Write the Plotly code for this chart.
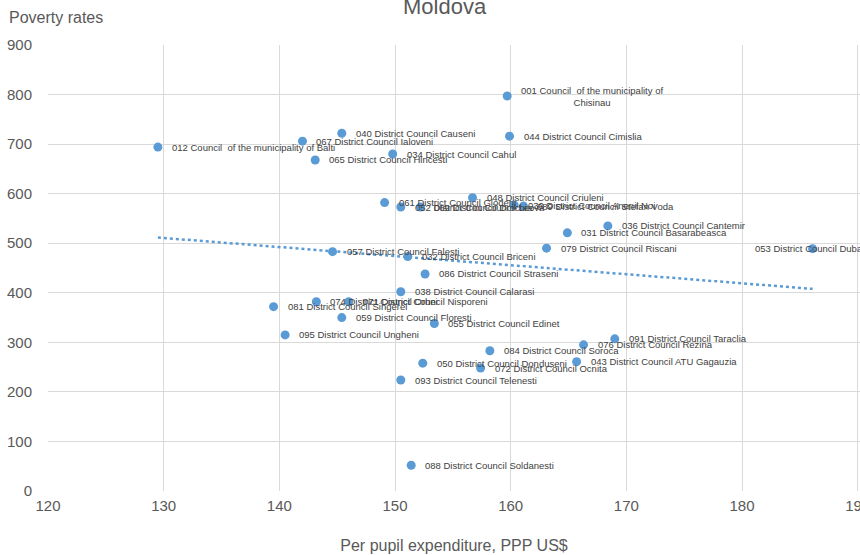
import numpy as np
import plotly.graph_objects as go

# district labels, per pupil expenditure (PPP US$) and poverty rates
names = ["001 Council  of the municipality of<br>Chisinau",
         "012 Council  of the municipality of Balti",
         "030 District Council Anenii Noi", "031 District Council Basarabeasca",
         "032 District Council Briceni", "034 District Council Cahul",
         "036 District Council Cantemir", "038 District Council Calarasi",
         "040 District Council Causeni", "043 District Council ATU Gagauzia",
         "044 District Council Cimislia", "048 District Council Criuleni",
         "050 District Council Donduseni", "052 District Council Drochia",
         "053 District Council Dubasari", "055 District Council Edinet",
         "057 District Council Falesti", "059 District Council Floresti",
         "061 District Council Glodeni", "065 District Council Hincesti",
         "067 District Council Ialoveni", "069 District Council Leova",
         "071 District Council Nisporeni", "072 District Council Ocnita",
         "074 District Council Orhei", "076 District Council Rezina",
         "079 District Council Riscani", "081 District Council Singerei",
         "084 District Council Soroca", "086 District Council Straseni",
         "088 District Council Soldanesti", "089 District Council Stefan Voda",
         "091 District Council Taraclia", "093 District Council Telenesti",
         "095 District Council Ungheni"]
expenditure = [159.7, 129.5, 160.3, 164.9, 151.1, 149.8, 168.4, 150.5, 145.4, 165.7,
               159.9, 156.7, 152.4, 150.5, 186.1, 153.4, 144.6, 145.4, 149.1, 143.1,
               142.0, 152.2, 146.0, 157.4, 143.2, 166.3, 163.1, 139.5, 158.2, 152.6,
               151.4, 161.1, 169.0, 150.5, 140.5]
poverty = [797, 694, 577, 521, 473, 680, 535, 402, 722, 261,
           716, 592, 258, 573, 489, 338, 483, 350, 582, 668,
           706, 573, 382, 248, 382, 295, 490, 372, 283, 438,
           52, 575, 307, 224, 315]

blue = '#5B9BD5'
grey = '#595959'
font = 'Liberation Sans, Arial, sans-serif'

fig = go.Figure()

# linear trend over the data range
slope, icpt = np.polyfit(expenditure, poverty, 1)
xt = np.array([min(expenditure), max(expenditure)])
fig.add_trace(go.Scatter(x=xt, y=slope * xt + icpt, mode='lines',
                         line=dict(color=blue, width=2.5, dash='dot'),
                         hoverinfo='skip', showlegend=False))

fig.add_trace(go.Scatter(x=expenditure, y=poverty, mode='markers',
                         marker=dict(color=blue, size=9),
                         text=names, hoverinfo='text', showlegend=False))

# data labels to the right of each point
for n, xv, yv in zip(names, expenditure, poverty):
    shift = 12
    if xv == max(expenditure):
        shift = -60  # squeezed against the right edge like the original
    fig.add_annotation(x=xv, y=yv, text=n, showarrow=False, xanchor='left',
                       xshift=shift, align='center',
                       font=dict(family=font, size=9.5, color='#404040'))

# chart title, partly cut by the top edge as in the original
fig.add_annotation(x=(445 - 48) / 812, y=1 + (45 - 7) / 446, xref='paper', yref='paper',
                   text='Moldova', showarrow=False, xanchor='center', yanchor='middle',
                   font=dict(family=font, size=22, color=grey))
fig.add_annotation(x=-41 / 812, y=1 + 27 / 446, xref='paper', yref='paper',
                   text='Poverty rates', showarrow=False, xanchor='left',
                   yanchor='middle', font=dict(family=font, size=16, color=grey))

fig.update_layout(
    width=860, height=555,
    margin=dict(l=48, r=0, t=45, b=64),
    paper_bgcolor='white', plot_bgcolor='white',
    xaxis=dict(range=[120, 190.2], dtick=10, showgrid=True, gridcolor='#d9d9d9',
               zeroline=False, showline=False, ticks='', automargin=False,
               tickfont=dict(family=font, size=15, color=grey),
               ticklabelstandoff=4, ticklabeloverflow='allow',
               title=dict(text='Per pupil expenditure, PPP US$', standoff=26,
                          font=dict(family=font, size=16, color=grey))),
    yaxis=dict(range=[0, 900], dtick=100, showgrid=True, gridcolor='#d9d9d9',
               zeroline=False, showline=False, ticks='', automargin=False,
               tickfont=dict(family=font, size=15, color=grey),
               ticklabelstandoff=15),
)

# page without the browser's default body margin, so the figure fills the window
fig.write_html("out.html", config={'displayModeBar': False},
               post_script="document.body.style.margin = '0';")
